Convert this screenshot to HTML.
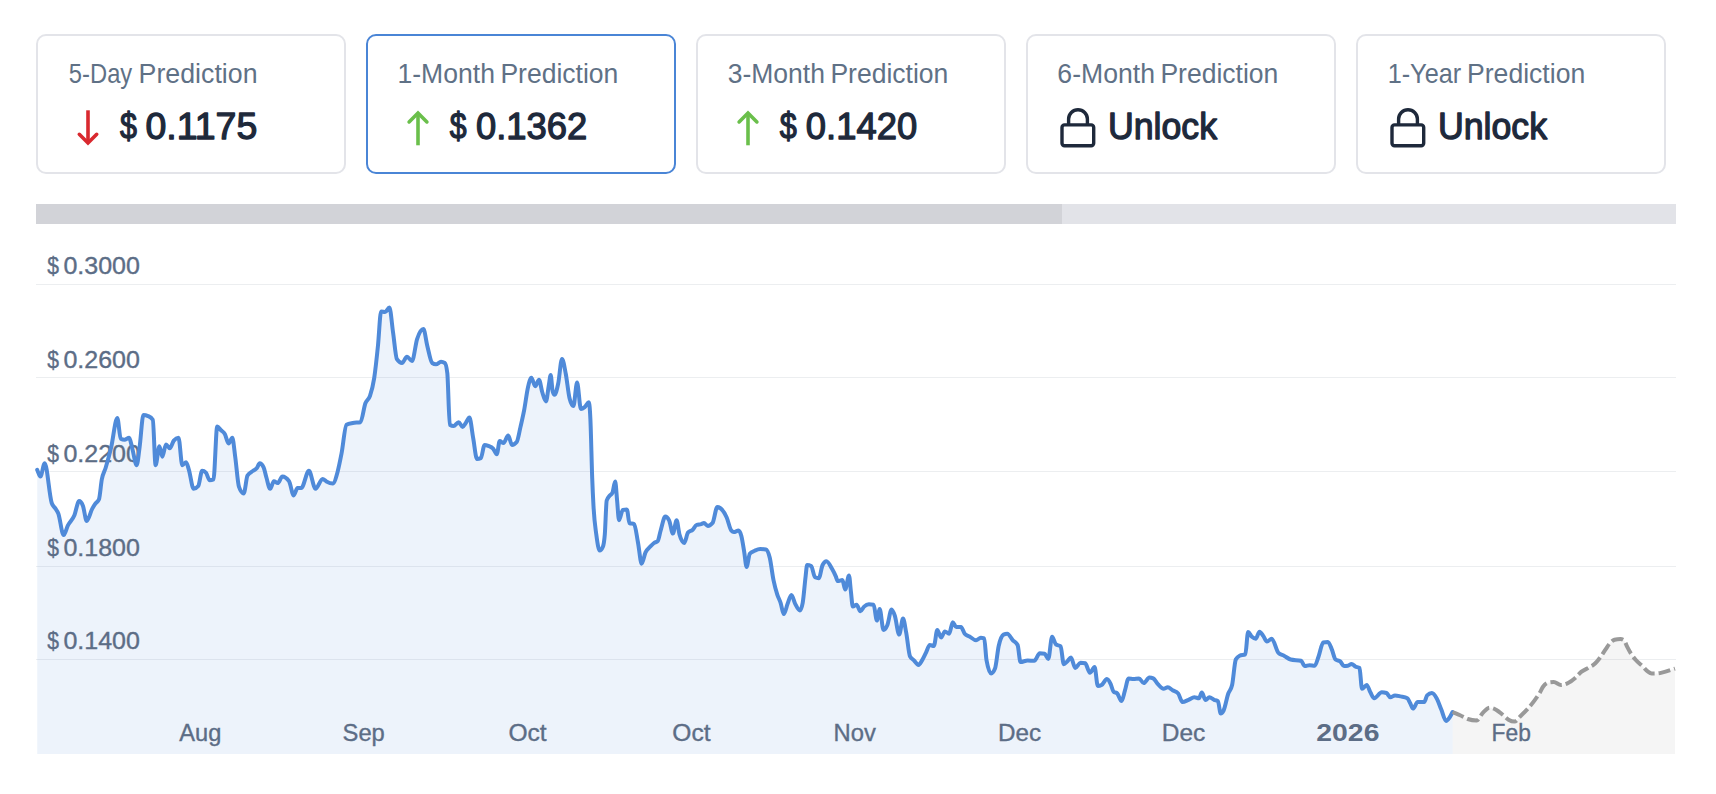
<!DOCTYPE html>
<html><head><meta charset="utf-8"><title>Price Prediction</title>
<style>
html,body{margin:0;padding:0;background:#fff;}
body{width:1716px;height:794px;position:relative;overflow:hidden;font-family:"Liberation Sans",sans-serif;}
svg{position:absolute;left:0;top:0;display:block;}
text{font-family:"Liberation Sans",sans-serif;}
.tt{font-size:27.3px;fill:#5f7186;}
.pv{font-size:37.4px;font-weight:normal;fill:#1e293b;stroke:#1e293b;stroke-width:1.3px;stroke-linejoin:round;}
.yl{font-size:23px;fill:#5c6d86;stroke:#5c6d86;stroke-width:0.35px;}
.xl{font-size:23.5px;fill:#5c6d86;stroke:#5c6d86;stroke-width:0.35px;}
.xb{font-size:23.5px;font-weight:bold;fill:#5c6d86;}
</style></head>
<body>
<svg width="1716" height="794" viewBox="0 0 1716 794">

<rect x="37" y="35" width="308" height="138" rx="9" fill="#fff" stroke="#e3e4e9" stroke-width="2"/>
<rect x="367" y="35" width="308" height="138" rx="9" fill="#fff" stroke="#4a85d6" stroke-width="2"/>
<rect x="697" y="35" width="308" height="138" rx="9" fill="#fff" stroke="#e3e4e9" stroke-width="2"/>
<rect x="1027" y="35" width="308" height="138" rx="9" fill="#fff" stroke="#e3e4e9" stroke-width="2"/>
<rect x="1357" y="35" width="308" height="138" rx="9" fill="#fff" stroke="#e3e4e9" stroke-width="2"/>
<text class="tt" x="68.85" y="83" textLength="63.4" lengthAdjust="spacingAndGlyphs">5-Day</text>
<text class="tt" x="138.61" y="83" textLength="118.93" lengthAdjust="spacingAndGlyphs">Prediction</text>
<text class="tt" x="397.48" y="83" textLength="97.45" lengthAdjust="spacingAndGlyphs">1-Month</text>
<text class="tt" x="500.43" y="83" textLength="117.9" lengthAdjust="spacingAndGlyphs">Prediction</text>
<text class="tt" x="727.69" y="83" textLength="97.23" lengthAdjust="spacingAndGlyphs">3-Month</text>
<text class="tt" x="830.43" y="83" textLength="117.9" lengthAdjust="spacingAndGlyphs">Prediction</text>
<text class="tt" x="1057.35" y="83" textLength="97.58" lengthAdjust="spacingAndGlyphs">6-Month</text>
<text class="tt" x="1160.43" y="83" textLength="117.9" lengthAdjust="spacingAndGlyphs">Prediction</text>
<text class="tt" x="1387.63" y="83" textLength="73.57" lengthAdjust="spacingAndGlyphs">1-Year</text>
<text class="tt" x="1467.02" y="83" textLength="118.21" lengthAdjust="spacingAndGlyphs">Prediction</text>
<g fill="none" stroke-width="3.6" stroke-linejoin="miter">
<path d="M88 110.3V143" stroke="#d9292f"/>
<path d="M79.3 134.3L88 143L96.7 134.3" stroke="#d9292f" stroke-linecap="round"/>
<path d="M418 145.3V113.6" stroke="#6abf4b"/>
<path d="M409.1 121.9L418 113L426.9 121.9" stroke="#6abf4b" stroke-linecap="round"/>
<path d="M748 145.3V113.6" stroke="#6abf4b"/>
<path d="M739.1 121.9L748 113L756.9 121.9" stroke="#6abf4b" stroke-linecap="round"/>
</g>
<text class="pv" x="120.02" y="138.8" textLength="16.92" lengthAdjust="spacingAndGlyphs">$</text>
<text class="pv" x="145.52" y="138.8" textLength="111.76" lengthAdjust="spacingAndGlyphs">0.1175</text>
<text class="pv" x="449.73" y="138.8" textLength="16.81" lengthAdjust="spacingAndGlyphs">$</text>
<text class="pv" x="476.03" y="138.8" textLength="111.25" lengthAdjust="spacingAndGlyphs">0.1362</text>
<text class="pv" x="779.82" y="138.8" textLength="17.02" lengthAdjust="spacingAndGlyphs">$</text>
<text class="pv" x="805.83" y="138.8" textLength="111.34" lengthAdjust="spacingAndGlyphs">0.1420</text>
<g fill="none" stroke="#1e293b" stroke-width="3.4" stroke-linejoin="round">
<rect x="1062" y="124.9" width="31.7" height="20.8" rx="2.5"/>
<path d="M1068.6 124.7V119.1A9.4 9.4 0 0 1 1087.4 119.1V124.7"/>
<rect x="1392" y="124.9" width="31.7" height="20.8" rx="2.5"/>
<path d="M1398.6 124.7V119.1A9.4 9.4 0 0 1 1417.4 119.1V124.7"/>
</g>
<text class="pv" x="1107.89" y="138.5" textLength="109.2" lengthAdjust="spacingAndGlyphs">Unlock</text>
<text class="pv" x="1437.89" y="138.5" textLength="109.2" lengthAdjust="spacingAndGlyphs">Unlock</text>
<rect x="36" y="204" width="1640" height="20" fill="#e2e3e8"/>
<rect x="36" y="204" width="1026" height="20" fill="#d2d3d8"/>
<g stroke="#eceef0" stroke-width="1">
<line x1="36" x2="1676" y1="284.5" y2="284.5"/>
<line x1="36" x2="1676" y1="377.5" y2="377.5"/>
<line x1="36" x2="1676" y1="471.5" y2="471.5"/>
<line x1="36" x2="1676" y1="566.5" y2="566.5"/>
<line x1="36" x2="1676" y1="659.5" y2="659.5"/>
</g>
<path d="M37.2 469.9C38.27 472.1 39.33 476.5 40.4 476.5C41.83 476.5 43.27 463.3 44.7 463.3C47.03 463.3 49.37 496.12 51.7 503C52.97 506.73 54.23 506.56 55.5 508.6C56.43 510.1 57.37 511.03 58.3 513.4C60.07 517.88 61.83 535.1 63.6 535.1C65 535.1 66.4 528.39 67.8 525.6C70 521.21 72.2 520.5 74.4 515.2C75.97 511.43 77.53 501.1 79.1 501.1C80.37 501.1 81.63 502.67 82.9 505.8C84.17 508.93 85.43 520.9 86.7 520.9C88.57 520.9 90.43 511.99 92.3 508.6C93.27 506.84 94.23 505.31 95.2 503.9C96.47 502.06 97.73 502.33 99 499.2C99.93 496.89 100.87 484.39 101.8 479.4C103.07 472.63 104.33 472.17 105.6 468C107.47 461.86 109.33 455.11 111.2 447.2C113.23 438.59 115.27 417.9 117.3 417.9C118.43 417.9 119.57 438.1 120.7 438.7C121.97 439.37 123.23 439.7 124.5 439.7C126.07 439.7 127.63 437.8 129.2 437.8C130.13 437.8 131.07 443.9 132 447.2C133.57 452.74 135.13 465.2 136.7 465.2C137.67 465.2 138.63 454.14 139.6 447.2C140.87 438.11 142.13 415.1 143.4 415.1C144.97 415.1 146.53 415.43 148.1 416.1C149.67 416.77 151.23 417.33 152.8 419.8C153.73 421.27 154.67 465.2 155.6 465.2C156.87 465.2 158.13 446.3 159.4 446.3C160.37 446.3 161.33 456.7 162.3 456.7C163.53 456.7 164.77 444.4 166 444.4C167.27 444.4 168.53 448.2 169.8 448.2C171.13 448.2 172.47 442.19 173.8 440.6C175.37 438.73 176.93 437.8 178.5 437.8C179.77 437.8 181.03 465.2 182.3 465.2C183.57 465.2 184.83 462.3 186.1 462.3C187.03 462.3 187.97 466.91 188.9 469.9C190.47 474.92 192.03 488.8 193.6 488.8C195.17 488.8 196.73 487.87 198.3 486C199.57 484.49 200.83 470.8 202.1 470.8C203.37 470.8 204.63 471.43 205.9 472.7C207.17 473.97 208.43 480.3 209.7 480.3C210.97 480.3 212.23 480 213.5 479.4C214.73 478.82 215.97 426.5 217.2 426.5C218.47 426.5 219.73 428.95 221 430.2C222.27 431.45 223.53 431.78 224.8 434C226.07 436.22 227.33 443.5 228.6 443.5C229.83 443.5 231.07 437.8 232.3 437.8C233.27 437.8 234.23 449.8 235.2 456.7C236.47 465.74 237.73 483.34 239 486.9C240.57 491.3 242.13 493.5 243.7 493.5C244.97 493.5 246.23 477.77 247.5 475.6C249.37 472.4 251.23 472.27 253.1 470.8C254.37 469.81 255.63 469.62 256.9 468C257.83 466.81 258.77 463.3 259.7 463.3C260.97 463.3 262.23 464.57 263.5 467.1C264.47 469.03 265.43 474.26 266.4 477.5C267.63 481.63 268.87 488.8 270.1 488.8C271.37 488.8 272.63 481.2 273.9 481.2C275.17 481.2 276.43 483.1 277.7 483.1C279.27 483.1 280.83 476.5 282.4 476.5C284.6 476.5 286.8 478.07 289 481.2C290.57 483.43 292.13 495.4 293.7 495.4C294.97 495.4 296.23 487.9 297.5 487.9C298.77 487.9 300.03 487.9 301.3 487.9C303.83 487.9 306.37 470.8 308.9 470.8C311.1 470.8 313.3 488.8 315.5 488.8C317.87 488.8 320.23 478.9 322.6 478.9C323.87 478.9 325.13 480.72 326.4 481.4C328.5 482.53 330.6 483.5 332.7 483.5C334.37 483.5 336.03 477.55 337.7 471.4C338.97 466.72 340.23 460.21 341.5 453.7C343.17 445.13 344.83 425.75 346.5 424.8C348.6 423.6 350.7 423.43 352.8 423C355.33 422.48 357.87 422.73 360.4 422.2C362.07 421.85 363.73 407.73 365.4 403.3C366.93 399.22 368.47 400.37 370 395.8C371.4 391.63 372.8 387.23 374.2 378.1C375.47 369.84 376.73 357.95 378 345.4C379.03 335.16 380.07 311.4 381.1 311.4C382.43 311.4 383.77 312.1 385.1 312.1C386.53 312.1 387.97 307.6 389.4 307.6C390.63 307.6 391.87 324.32 393.1 332.8C394.37 341.51 395.63 357.31 396.9 359.2C398.6 361.73 400.3 363 402 363C403.67 363 405.33 356.7 407 356.7C408.67 356.7 410.33 361 412 361C413.7 361 415.4 344.35 417.1 339.1C419.2 332.61 421.3 329 423.4 329C424.67 329 425.93 340.37 427.2 345.4C428.87 352.02 430.53 361.86 432.2 363C433.47 363.87 434.73 364.3 436 364.3C437.67 364.3 439.33 361.8 441 361.8C442.27 361.8 443.53 362.2 444.8 363C445.63 363.53 446.47 366.37 447.3 373.1C448.13 379.83 448.97 424.27 449.8 424.8C451.07 425.6 452.33 426 453.6 426C455.27 426 456.93 422.2 458.6 422.2C459.93 422.2 461.27 426.9 462.6 426.9C463.63 426.9 464.67 424.5 465.7 423.1C466.93 421.43 468.17 417.5 469.4 417.5C470.67 417.5 471.93 431.28 473.2 438.2C474.47 445.12 475.73 459 477 459C478.27 459 479.53 458.7 480.8 458.1C482.07 457.5 483.33 444.9 484.6 444.9C485.83 444.9 487.07 445.32 488.3 445.8C489.9 446.43 491.5 446.8 493.1 448.6C494.33 449.99 495.57 454.3 496.8 454.3C497.77 454.3 498.73 441.1 499.7 441.1C500.97 441.1 502.23 443 503.5 443C505.07 443 506.63 435.4 508.2 435.4C509.47 435.4 510.73 444.9 512 444.9C513.57 444.9 515.13 443.93 516.7 442C517.97 440.44 519.23 432.33 520.5 426.9C521.73 421.61 522.97 416.41 524.2 409.9C525.47 403.22 526.73 392.62 528 387.2C529.13 382.35 530.27 377.8 531.4 377.8C532.67 377.8 533.93 386.3 535.2 386.3C536.47 386.3 537.73 379.7 539 379.7C540.07 379.7 541.13 388.57 542.2 392C543.47 396.08 544.73 401.4 546 401.4C546.93 401.4 547.87 390.48 548.8 385.3C549.43 381.78 550.07 375 550.7 375C551.33 375 551.97 388.47 552.6 391C553.23 393.53 553.87 394.8 554.5 394.8C555.73 394.8 556.97 389.35 558.2 383.5C559.47 377.49 560.73 358.9 562 358.9C563.27 358.9 564.53 367.38 565.8 374C567.07 380.62 568.33 393.6 569.6 398.6C570.87 403.6 572.13 406.1 573.4 406.1C574.63 406.1 575.87 382.5 577.1 382.5C578.37 382.5 579.63 409 580.9 409C582.17 409 583.43 408.12 584.7 407.1C586.1 405.97 587.5 402.3 588.9 402.3C589.4 402.3 589.9 408.92 590.4 419.4C591 431.98 591.6 462.05 592.2 477.8C592.63 489.17 593.07 498.26 593.5 506.1C594.43 522.98 595.37 527.33 596.3 534.5C597.43 543.21 598.57 550.5 599.7 550.5C600.77 550.5 601.83 549.23 602.9 546.7C603.53 545.2 604.17 542.2 604.8 534.5C605.43 526.8 606.07 502.6 606.7 500.5C607.67 497.3 608.63 496.98 609.6 495.7C610.53 494.47 611.47 494.77 612.4 492.9C613.33 491.03 614.27 481.6 615.2 481.6C615.83 481.6 616.47 494.05 617.1 500.5C617.73 506.95 618.37 520.3 619 520.3C620.27 520.3 621.53 510.15 622.8 509.9C624.17 509.63 625.53 509.5 626.9 509.5C627.73 509.5 628.57 522.75 629.4 523.1C630.97 523.77 632.53 523.43 634.1 524.1C635.37 524.64 636.63 535.4 637.9 542C639.17 548.6 640.43 563.7 641.7 563.7C642.97 563.7 644.23 555.17 645.5 552.4C647.07 548.97 648.63 548.39 650.2 546.7C651.47 545.33 652.73 543.94 654 543C655.23 542.09 656.47 542.37 657.7 541.1C658.67 540.11 659.63 533.96 660.6 530.7C662.17 525.42 663.73 516.5 665.3 516.5C666.57 516.5 667.83 517.77 669.1 520.3C670.37 522.83 671.63 533.5 672.9 533.5C674.13 533.5 675.37 520.3 676.6 520.3C677.57 520.3 678.53 531 679.5 534.5C681.07 540.17 682.63 543 684.2 543C685.47 543 686.73 534.16 688 532.6C689.57 530.67 691.13 531.2 692.7 529.7C693.97 528.48 695.23 525.49 696.5 525C698.07 524.4 699.63 524.56 701.2 524.1C702.13 523.82 703.07 523.1 704 523.1C705.27 523.1 706.53 526 707.8 526C709.37 526 710.93 525.03 712.5 523.1C714.1 521.13 715.7 507.1 717.3 507.1C718.23 507.1 719.17 507.4 720.1 508C722.3 509.41 724.5 512.57 726.7 517.5C728.27 521.01 729.83 529 731.4 530.7C732.2 531.57 733 532 733.8 532C735.37 532 736.93 530.6 738.5 530.6C739.43 530.6 740.37 532.3 741.3 535.7C742.27 539.22 743.23 546.04 744.2 551.8C745 556.57 745.8 566.9 746.6 566.9C747.67 566.9 748.73 554.99 749.8 553.7C751.4 551.77 753 551.56 754.6 550.8C756.47 549.92 758.33 549 760.2 549C762.1 549 764 549.17 765.9 549.5C767.17 549.72 768.43 552.4 769.7 557.5C770.97 562.6 772.23 573.92 773.5 580.1C774.73 586.12 775.97 590.43 777.2 594.3C778.33 597.86 779.47 599.36 780.6 602.8C781.67 606.03 782.73 614.1 783.8 614.1C785.07 614.1 786.33 607 787.6 603.8C788.87 600.6 790.13 594.9 791.4 594.9C792.67 594.9 793.93 601.36 795.2 603.8C796.77 606.81 798.33 610.4 799.9 610.4C800.83 610.4 801.77 607.87 802.7 602.8C803.67 597.55 804.63 584.24 805.6 576.4C806.1 572.34 806.6 565 807.1 565C808.47 565 809.83 565.33 811.2 566C812.47 566.62 813.73 576.7 815 577.3C816.27 577.9 817.53 578.2 818.8 578.2C820.07 578.2 821.33 567.53 822.6 565C823.87 562.47 825.13 561.2 826.4 561.2C828.27 561.2 830.13 565.55 832 568.8C833.27 571 834.53 573.47 835.8 576.4C836.43 577.87 837.07 581.1 837.7 581.1C839.27 581.1 840.83 580.1 842.4 580.1C843.33 580.1 844.27 589.6 845.2 589.6C846.47 589.6 847.73 575.4 849 575.4C849.63 575.4 850.27 586.3 850.9 591.5C851.53 596.7 852.17 606.6 852.8 606.6C854.07 606.6 855.33 604.7 856.6 604.7C857.87 604.7 859.13 611.3 860.4 611.3C861.63 611.3 862.87 607.74 864.1 606.6C865.7 605.12 867.3 604.3 868.9 604.3C870.47 604.3 872.03 604.43 873.6 604.7C874.7 604.89 875.8 620.5 876.9 620.5C877.83 620.5 878.77 609.1 879.7 609.1C880.97 609.1 882.23 629.9 883.5 629.9C884.77 629.9 886.03 628.2 887.3 625.2C888.73 621.8 890.17 609.5 891.6 609.5C892.67 609.5 893.73 612.57 894.8 615.7C896.27 620 897.73 634.6 899.2 634.6C900.47 634.6 901.73 618.6 903 618.6C904.07 618.6 905.13 627.11 906.2 632.7C907.47 639.34 908.73 653.87 910 656.4C911.23 658.87 912.47 658.87 913.7 660.1C915.3 661.7 916.9 664.9 918.5 664.9C919.73 664.9 920.97 662.11 922.2 660.1C923.47 658.03 924.73 655.12 926 652.6C927.27 650.08 928.53 645 929.8 645C931.17 645 932.53 646 933.9 646C935.03 646 936.17 629.9 937.3 629.9C938.57 629.9 939.83 637.5 941.1 637.5C942.37 637.5 943.63 631.4 944.9 631.4C946.3 631.4 947.7 633.7 949.1 633.7C950.33 633.7 951.57 622.3 952.8 622.3C953.93 622.3 955.07 627.1 956.2 627.1C957.8 627.1 959.4 627.1 961 627.1C962.23 627.1 963.47 632.26 964.7 633.7C966.3 635.57 967.9 635.57 969.5 636.5C971.7 637.78 973.9 640.3 976.1 640.3C977.67 640.3 979.23 637.8 980.8 637.8C981.93 637.8 983.07 638 984.2 638.4C984.97 638.67 985.73 655.76 986.5 660.1C988.07 668.97 989.63 673.4 991.2 673.4C992.47 673.4 993.73 671.8 995 668.6C996.23 665.48 997.47 651.53 998.7 646C1000.3 638.83 1001.9 635.36 1003.5 634.6C1004.77 634 1006.03 633.7 1007.3 633.7C1009.17 633.7 1011.03 638.28 1012.9 640.3C1014.47 641.99 1016.03 641.87 1017.6 645C1018.57 646.93 1019.53 662 1020.5 662C1022.87 662 1025.23 660.5 1027.6 660.5C1029.8 660.5 1032 660.8 1034.2 660.8C1036.07 660.8 1037.93 653.3 1039.8 653.3C1041.4 653.3 1043 653.47 1044.6 653.8C1045.83 654.06 1047.07 658.9 1048.3 658.9C1049.57 658.9 1050.83 636.8 1052.1 636.8C1053.37 636.8 1054.63 643.38 1055.9 644.4C1057.47 645.67 1059.03 645.03 1060.6 646.3C1061.67 647.16 1062.73 664.2 1063.8 664.2C1064.93 664.2 1066.07 662.43 1067.2 661.4C1068.47 660.25 1069.73 657.6 1071 657.6C1072.4 657.6 1073.8 668 1075.2 668C1076.97 668 1078.73 662.7 1080.5 662.7C1082.07 662.7 1083.63 662.9 1085.2 663.3C1086.77 663.7 1088.33 672.7 1089.9 672.7C1091.47 672.7 1093.03 667.1 1094.6 667.1C1095.67 667.1 1096.73 686 1097.8 686C1099.07 686 1100.33 685.67 1101.6 685C1103.37 684.07 1105.13 679 1106.9 679C1108.17 679 1109.43 681.43 1110.7 684.1C1111.63 686.07 1112.57 690.67 1113.5 691.6C1114.77 692.87 1116.03 692.23 1117.3 693.5C1118.73 694.93 1120.17 701.1 1121.6 701.1C1122.7 701.1 1123.8 694.26 1124.9 690.7C1126.13 686.71 1127.37 678.4 1128.6 678.4C1130.2 678.4 1131.8 679 1133.4 679C1135.27 679 1137.13 678.4 1139 678.4C1140.57 678.4 1142.13 683.1 1143.7 683.1C1145.6 683.1 1147.5 677.5 1149.4 677.5C1150.67 677.5 1151.93 677.8 1153.2 678.4C1154.77 679.14 1156.33 682.47 1157.9 684.1C1159.8 686.07 1161.7 688.8 1163.6 688.8C1165 688.8 1166.4 687.3 1167.8 687.3C1169.4 687.3 1171 689.34 1172.6 690.3C1174.47 691.42 1176.33 691.37 1178.2 693.5C1179.6 695.1 1181 702 1182.4 702C1184.47 702 1186.53 700.62 1188.6 699.8C1190.5 699.04 1192.4 697.3 1194.3 697.3C1195.87 697.3 1197.43 698.2 1199 698.2C1199.93 698.2 1200.87 692.6 1201.8 692.6C1203.07 692.6 1204.33 700.1 1205.6 700.1C1206.87 700.1 1208.13 697.3 1209.4 697.3C1210.97 697.3 1212.53 699.13 1214.1 699.8C1215.37 700.34 1216.63 700.23 1217.9 701.1C1218.83 701.74 1219.77 713.4 1220.7 713.4C1221.67 713.4 1222.63 712.43 1223.6 710.5C1225.17 707.37 1226.73 697.97 1228.3 693.5C1229.57 689.89 1230.83 690.67 1232.1 685C1233.33 679.48 1234.57 661.97 1235.8 659.5C1237.07 656.97 1238.33 656.28 1239.6 655.7C1241.5 654.83 1243.4 655.27 1245.3 654.4C1246.23 653.97 1247.17 632.1 1248.1 632.1C1249.37 632.1 1250.63 635.7 1251.9 636.8C1253.17 637.9 1254.43 638.7 1255.7 638.7C1256.97 638.7 1258.23 631.7 1259.5 631.7C1260.73 631.7 1261.97 634.28 1263.2 635.9C1264.47 637.57 1265.73 641.6 1267 641.6C1268.57 641.6 1270.13 638.7 1271.7 638.7C1273.93 638.7 1276.17 650.67 1278.4 652.9C1280.27 654.77 1282.13 654.7 1284 655.7C1286.2 656.88 1288.4 658.95 1290.6 659.5C1294.07 660.37 1297.53 659.93 1301 660.8C1302.27 661.12 1303.53 666.1 1304.8 666.1C1306.37 666.1 1307.93 665.2 1309.5 665.2C1311.23 665.2 1312.97 665.7 1314.7 665.7C1315.97 665.7 1317.23 660.07 1318.5 656.7C1320.07 652.53 1321.63 642.9 1323.2 642.5C1324.77 642.1 1326.33 641.9 1327.9 641.9C1329.17 641.9 1330.43 646.17 1331.7 649.1C1332.97 652.03 1334.23 658.48 1335.5 659.5C1337.07 660.77 1338.63 660.13 1340.2 661.4C1341.47 662.42 1342.73 666.1 1344 666.1C1345.27 666.1 1346.53 665.97 1347.8 665.7C1349.07 665.43 1350.33 663.9 1351.6 663.9C1352.83 663.9 1354.07 665.83 1355.3 666.5C1356.7 667.26 1358.1 667 1359.5 668C1360.33 668.6 1361.17 688.8 1362 688.8C1363.57 688.8 1365.13 685 1366.7 685C1367.97 685 1369.23 690.38 1370.5 692.6C1371.73 694.76 1372.97 698.2 1374.2 698.2C1376.73 698.2 1379.27 692.2 1381.8 692.2C1383.37 692.2 1384.93 692.47 1386.5 693C1387.77 693.43 1389.03 697.3 1390.3 697.3C1391.87 697.3 1393.43 695.4 1395 695.4C1396.9 695.4 1398.8 695.98 1400.7 696.4C1402.9 696.89 1405.1 697 1407.3 698.2C1408.23 698.71 1409.17 701.3 1410.1 703C1411.07 704.76 1412.03 708.6 1413 708.6C1414.57 708.6 1416.13 702 1417.7 702C1419.9 702 1422.1 702 1424.3 702C1425.23 702 1426.17 696.33 1427.1 695.4C1428.7 693.8 1430.3 693 1431.9 693C1433.47 693 1435.03 695.43 1436.6 698.2C1438.17 700.97 1439.73 705.82 1441.3 709.6C1442.87 713.38 1444.43 720.9 1446 720.9C1447.27 720.9 1448.53 718.97 1449.8 717.1C1450.73 715.73 1451.67 713.7 1452.6 712L1452.6 754L37.2 754Z" fill="rgba(74,134,216,0.1)"/>
<path d="M1452.6 712C1455.1 713.07 1457.6 714.04 1460.1 715.2C1462.63 716.37 1465.17 718.16 1467.7 719C1470.7 720 1473.7 720.5 1476.7 720.5C1478.73 720.5 1480.77 714.97 1482.8 712.9C1485.07 710.59 1487.33 707.7 1489.6 707.7C1491.87 707.7 1494.13 708.63 1496.4 709.9C1498.4 711.02 1500.4 712.88 1502.4 714.5C1504.43 716.15 1506.47 718.52 1508.5 719.7C1510.5 720.86 1512.5 721.6 1514.5 721.6C1516.53 721.6 1518.57 717.95 1520.6 716C1522.87 713.83 1525.13 711.72 1527.4 709.2C1529.67 706.68 1531.93 703.94 1534.2 700.9C1535.97 698.53 1537.73 696.25 1539.5 693.3C1540.73 691.24 1541.97 688.21 1543.2 686.5C1544.73 684.37 1546.27 683.06 1547.8 682.7C1549.8 682.23 1551.8 682 1553.8 682C1556.2 682 1558.6 685 1561 685C1563.37 685 1565.73 684.18 1568.1 683C1570.47 681.82 1572.83 679.96 1575.2 677.9C1577.2 676.16 1579.2 673.5 1581.2 671.9C1583.57 670.01 1585.93 669.35 1588.3 667.9C1590.63 666.48 1592.97 665.57 1595.3 663.3C1596.97 661.68 1598.63 659.54 1600.3 657.3C1602 655.02 1603.7 652.19 1605.4 649.7C1606.9 647.5 1608.4 644.86 1609.9 643.2C1611.43 641.5 1612.97 640.11 1614.5 639.7C1616.5 639.17 1618.5 638.9 1620.5 638.9C1621.67 638.9 1622.83 639.33 1624 640.2C1625.03 640.97 1626.07 644.68 1627.1 646.7C1628.43 649.31 1629.77 651.71 1631.1 653.8C1632.6 656.15 1634.1 658.03 1635.6 659.8C1637.97 662.58 1640.33 664.1 1642.7 666.4C1644.37 668.02 1646.03 670.2 1647.7 671.4C1649.03 672.36 1650.37 673.4 1651.7 673.4C1653.4 673.4 1655.1 673.4 1656.8 673.4C1658.8 673.4 1660.8 672.85 1662.8 672.4C1665.83 671.72 1668.87 670.57 1671.9 669.6C1672.93 669.27 1673.97 668.93 1675 668.6L1675 754L1452.6 754Z" fill="rgba(153,153,153,0.1)"/>
<text class="yl" x="47.15" y="274" textLength="11.72" lengthAdjust="spacingAndGlyphs">$</text>
<text class="yl" x="63.4" y="274" textLength="76.5" lengthAdjust="spacingAndGlyphs">0.3000</text>
<text class="yl" x="47.15" y="368" textLength="11.72" lengthAdjust="spacingAndGlyphs">$</text>
<text class="yl" x="63.4" y="368" textLength="76.5" lengthAdjust="spacingAndGlyphs">0.2600</text>
<text class="yl" x="47.15" y="461.5" textLength="11.72" lengthAdjust="spacingAndGlyphs">$</text>
<text class="yl" x="63.4" y="461.5" textLength="76.5" lengthAdjust="spacingAndGlyphs">0.2200</text>
<text class="yl" x="47.15" y="556" textLength="11.72" lengthAdjust="spacingAndGlyphs">$</text>
<text class="yl" x="63.4" y="556" textLength="76.5" lengthAdjust="spacingAndGlyphs">0.1800</text>
<text class="yl" x="47.15" y="649" textLength="11.72" lengthAdjust="spacingAndGlyphs">$</text>
<text class="yl" x="63.4" y="649" textLength="76.5" lengthAdjust="spacingAndGlyphs">0.1400</text>
<text class="xl" x="179.33" y="741" textLength="42.02" lengthAdjust="spacingAndGlyphs">Aug</text>
<text class="xl" x="342.6" y="741" textLength="42.22" lengthAdjust="spacingAndGlyphs">Sep</text>
<text class="xl" x="508.41" y="741" textLength="38.19" lengthAdjust="spacingAndGlyphs">Oct</text>
<text class="xl" x="672.31" y="741" textLength="38.19" lengthAdjust="spacingAndGlyphs">Oct</text>
<text class="xl" x="833.62" y="741" textLength="42.28" lengthAdjust="spacingAndGlyphs">Nov</text>
<text class="xl" x="997.99" y="741" textLength="43.08" lengthAdjust="spacingAndGlyphs">Dec</text>
<text class="xl" x="1161.77" y="741" textLength="43.5" lengthAdjust="spacingAndGlyphs">Dec</text>
<text class="xl" x="1491.61" y="741" textLength="39.28" lengthAdjust="spacingAndGlyphs">Feb</text>
<text class="xb" x="1316.32" y="741" textLength="63.11" lengthAdjust="spacingAndGlyphs">2026</text>
<path d="M37.2 469.9C38.27 472.1 39.33 476.5 40.4 476.5C41.83 476.5 43.27 463.3 44.7 463.3C47.03 463.3 49.37 496.12 51.7 503C52.97 506.73 54.23 506.56 55.5 508.6C56.43 510.1 57.37 511.03 58.3 513.4C60.07 517.88 61.83 535.1 63.6 535.1C65 535.1 66.4 528.39 67.8 525.6C70 521.21 72.2 520.5 74.4 515.2C75.97 511.43 77.53 501.1 79.1 501.1C80.37 501.1 81.63 502.67 82.9 505.8C84.17 508.93 85.43 520.9 86.7 520.9C88.57 520.9 90.43 511.99 92.3 508.6C93.27 506.84 94.23 505.31 95.2 503.9C96.47 502.06 97.73 502.33 99 499.2C99.93 496.89 100.87 484.39 101.8 479.4C103.07 472.63 104.33 472.17 105.6 468C107.47 461.86 109.33 455.11 111.2 447.2C113.23 438.59 115.27 417.9 117.3 417.9C118.43 417.9 119.57 438.1 120.7 438.7C121.97 439.37 123.23 439.7 124.5 439.7C126.07 439.7 127.63 437.8 129.2 437.8C130.13 437.8 131.07 443.9 132 447.2C133.57 452.74 135.13 465.2 136.7 465.2C137.67 465.2 138.63 454.14 139.6 447.2C140.87 438.11 142.13 415.1 143.4 415.1C144.97 415.1 146.53 415.43 148.1 416.1C149.67 416.77 151.23 417.33 152.8 419.8C153.73 421.27 154.67 465.2 155.6 465.2C156.87 465.2 158.13 446.3 159.4 446.3C160.37 446.3 161.33 456.7 162.3 456.7C163.53 456.7 164.77 444.4 166 444.4C167.27 444.4 168.53 448.2 169.8 448.2C171.13 448.2 172.47 442.19 173.8 440.6C175.37 438.73 176.93 437.8 178.5 437.8C179.77 437.8 181.03 465.2 182.3 465.2C183.57 465.2 184.83 462.3 186.1 462.3C187.03 462.3 187.97 466.91 188.9 469.9C190.47 474.92 192.03 488.8 193.6 488.8C195.17 488.8 196.73 487.87 198.3 486C199.57 484.49 200.83 470.8 202.1 470.8C203.37 470.8 204.63 471.43 205.9 472.7C207.17 473.97 208.43 480.3 209.7 480.3C210.97 480.3 212.23 480 213.5 479.4C214.73 478.82 215.97 426.5 217.2 426.5C218.47 426.5 219.73 428.95 221 430.2C222.27 431.45 223.53 431.78 224.8 434C226.07 436.22 227.33 443.5 228.6 443.5C229.83 443.5 231.07 437.8 232.3 437.8C233.27 437.8 234.23 449.8 235.2 456.7C236.47 465.74 237.73 483.34 239 486.9C240.57 491.3 242.13 493.5 243.7 493.5C244.97 493.5 246.23 477.77 247.5 475.6C249.37 472.4 251.23 472.27 253.1 470.8C254.37 469.81 255.63 469.62 256.9 468C257.83 466.81 258.77 463.3 259.7 463.3C260.97 463.3 262.23 464.57 263.5 467.1C264.47 469.03 265.43 474.26 266.4 477.5C267.63 481.63 268.87 488.8 270.1 488.8C271.37 488.8 272.63 481.2 273.9 481.2C275.17 481.2 276.43 483.1 277.7 483.1C279.27 483.1 280.83 476.5 282.4 476.5C284.6 476.5 286.8 478.07 289 481.2C290.57 483.43 292.13 495.4 293.7 495.4C294.97 495.4 296.23 487.9 297.5 487.9C298.77 487.9 300.03 487.9 301.3 487.9C303.83 487.9 306.37 470.8 308.9 470.8C311.1 470.8 313.3 488.8 315.5 488.8C317.87 488.8 320.23 478.9 322.6 478.9C323.87 478.9 325.13 480.72 326.4 481.4C328.5 482.53 330.6 483.5 332.7 483.5C334.37 483.5 336.03 477.55 337.7 471.4C338.97 466.72 340.23 460.21 341.5 453.7C343.17 445.13 344.83 425.75 346.5 424.8C348.6 423.6 350.7 423.43 352.8 423C355.33 422.48 357.87 422.73 360.4 422.2C362.07 421.85 363.73 407.73 365.4 403.3C366.93 399.22 368.47 400.37 370 395.8C371.4 391.63 372.8 387.23 374.2 378.1C375.47 369.84 376.73 357.95 378 345.4C379.03 335.16 380.07 311.4 381.1 311.4C382.43 311.4 383.77 312.1 385.1 312.1C386.53 312.1 387.97 307.6 389.4 307.6C390.63 307.6 391.87 324.32 393.1 332.8C394.37 341.51 395.63 357.31 396.9 359.2C398.6 361.73 400.3 363 402 363C403.67 363 405.33 356.7 407 356.7C408.67 356.7 410.33 361 412 361C413.7 361 415.4 344.35 417.1 339.1C419.2 332.61 421.3 329 423.4 329C424.67 329 425.93 340.37 427.2 345.4C428.87 352.02 430.53 361.86 432.2 363C433.47 363.87 434.73 364.3 436 364.3C437.67 364.3 439.33 361.8 441 361.8C442.27 361.8 443.53 362.2 444.8 363C445.63 363.53 446.47 366.37 447.3 373.1C448.13 379.83 448.97 424.27 449.8 424.8C451.07 425.6 452.33 426 453.6 426C455.27 426 456.93 422.2 458.6 422.2C459.93 422.2 461.27 426.9 462.6 426.9C463.63 426.9 464.67 424.5 465.7 423.1C466.93 421.43 468.17 417.5 469.4 417.5C470.67 417.5 471.93 431.28 473.2 438.2C474.47 445.12 475.73 459 477 459C478.27 459 479.53 458.7 480.8 458.1C482.07 457.5 483.33 444.9 484.6 444.9C485.83 444.9 487.07 445.32 488.3 445.8C489.9 446.43 491.5 446.8 493.1 448.6C494.33 449.99 495.57 454.3 496.8 454.3C497.77 454.3 498.73 441.1 499.7 441.1C500.97 441.1 502.23 443 503.5 443C505.07 443 506.63 435.4 508.2 435.4C509.47 435.4 510.73 444.9 512 444.9C513.57 444.9 515.13 443.93 516.7 442C517.97 440.44 519.23 432.33 520.5 426.9C521.73 421.61 522.97 416.41 524.2 409.9C525.47 403.22 526.73 392.62 528 387.2C529.13 382.35 530.27 377.8 531.4 377.8C532.67 377.8 533.93 386.3 535.2 386.3C536.47 386.3 537.73 379.7 539 379.7C540.07 379.7 541.13 388.57 542.2 392C543.47 396.08 544.73 401.4 546 401.4C546.93 401.4 547.87 390.48 548.8 385.3C549.43 381.78 550.07 375 550.7 375C551.33 375 551.97 388.47 552.6 391C553.23 393.53 553.87 394.8 554.5 394.8C555.73 394.8 556.97 389.35 558.2 383.5C559.47 377.49 560.73 358.9 562 358.9C563.27 358.9 564.53 367.38 565.8 374C567.07 380.62 568.33 393.6 569.6 398.6C570.87 403.6 572.13 406.1 573.4 406.1C574.63 406.1 575.87 382.5 577.1 382.5C578.37 382.5 579.63 409 580.9 409C582.17 409 583.43 408.12 584.7 407.1C586.1 405.97 587.5 402.3 588.9 402.3C589.4 402.3 589.9 408.92 590.4 419.4C591 431.98 591.6 462.05 592.2 477.8C592.63 489.17 593.07 498.26 593.5 506.1C594.43 522.98 595.37 527.33 596.3 534.5C597.43 543.21 598.57 550.5 599.7 550.5C600.77 550.5 601.83 549.23 602.9 546.7C603.53 545.2 604.17 542.2 604.8 534.5C605.43 526.8 606.07 502.6 606.7 500.5C607.67 497.3 608.63 496.98 609.6 495.7C610.53 494.47 611.47 494.77 612.4 492.9C613.33 491.03 614.27 481.6 615.2 481.6C615.83 481.6 616.47 494.05 617.1 500.5C617.73 506.95 618.37 520.3 619 520.3C620.27 520.3 621.53 510.15 622.8 509.9C624.17 509.63 625.53 509.5 626.9 509.5C627.73 509.5 628.57 522.75 629.4 523.1C630.97 523.77 632.53 523.43 634.1 524.1C635.37 524.64 636.63 535.4 637.9 542C639.17 548.6 640.43 563.7 641.7 563.7C642.97 563.7 644.23 555.17 645.5 552.4C647.07 548.97 648.63 548.39 650.2 546.7C651.47 545.33 652.73 543.94 654 543C655.23 542.09 656.47 542.37 657.7 541.1C658.67 540.11 659.63 533.96 660.6 530.7C662.17 525.42 663.73 516.5 665.3 516.5C666.57 516.5 667.83 517.77 669.1 520.3C670.37 522.83 671.63 533.5 672.9 533.5C674.13 533.5 675.37 520.3 676.6 520.3C677.57 520.3 678.53 531 679.5 534.5C681.07 540.17 682.63 543 684.2 543C685.47 543 686.73 534.16 688 532.6C689.57 530.67 691.13 531.2 692.7 529.7C693.97 528.48 695.23 525.49 696.5 525C698.07 524.4 699.63 524.56 701.2 524.1C702.13 523.82 703.07 523.1 704 523.1C705.27 523.1 706.53 526 707.8 526C709.37 526 710.93 525.03 712.5 523.1C714.1 521.13 715.7 507.1 717.3 507.1C718.23 507.1 719.17 507.4 720.1 508C722.3 509.41 724.5 512.57 726.7 517.5C728.27 521.01 729.83 529 731.4 530.7C732.2 531.57 733 532 733.8 532C735.37 532 736.93 530.6 738.5 530.6C739.43 530.6 740.37 532.3 741.3 535.7C742.27 539.22 743.23 546.04 744.2 551.8C745 556.57 745.8 566.9 746.6 566.9C747.67 566.9 748.73 554.99 749.8 553.7C751.4 551.77 753 551.56 754.6 550.8C756.47 549.92 758.33 549 760.2 549C762.1 549 764 549.17 765.9 549.5C767.17 549.72 768.43 552.4 769.7 557.5C770.97 562.6 772.23 573.92 773.5 580.1C774.73 586.12 775.97 590.43 777.2 594.3C778.33 597.86 779.47 599.36 780.6 602.8C781.67 606.03 782.73 614.1 783.8 614.1C785.07 614.1 786.33 607 787.6 603.8C788.87 600.6 790.13 594.9 791.4 594.9C792.67 594.9 793.93 601.36 795.2 603.8C796.77 606.81 798.33 610.4 799.9 610.4C800.83 610.4 801.77 607.87 802.7 602.8C803.67 597.55 804.63 584.24 805.6 576.4C806.1 572.34 806.6 565 807.1 565C808.47 565 809.83 565.33 811.2 566C812.47 566.62 813.73 576.7 815 577.3C816.27 577.9 817.53 578.2 818.8 578.2C820.07 578.2 821.33 567.53 822.6 565C823.87 562.47 825.13 561.2 826.4 561.2C828.27 561.2 830.13 565.55 832 568.8C833.27 571 834.53 573.47 835.8 576.4C836.43 577.87 837.07 581.1 837.7 581.1C839.27 581.1 840.83 580.1 842.4 580.1C843.33 580.1 844.27 589.6 845.2 589.6C846.47 589.6 847.73 575.4 849 575.4C849.63 575.4 850.27 586.3 850.9 591.5C851.53 596.7 852.17 606.6 852.8 606.6C854.07 606.6 855.33 604.7 856.6 604.7C857.87 604.7 859.13 611.3 860.4 611.3C861.63 611.3 862.87 607.74 864.1 606.6C865.7 605.12 867.3 604.3 868.9 604.3C870.47 604.3 872.03 604.43 873.6 604.7C874.7 604.89 875.8 620.5 876.9 620.5C877.83 620.5 878.77 609.1 879.7 609.1C880.97 609.1 882.23 629.9 883.5 629.9C884.77 629.9 886.03 628.2 887.3 625.2C888.73 621.8 890.17 609.5 891.6 609.5C892.67 609.5 893.73 612.57 894.8 615.7C896.27 620 897.73 634.6 899.2 634.6C900.47 634.6 901.73 618.6 903 618.6C904.07 618.6 905.13 627.11 906.2 632.7C907.47 639.34 908.73 653.87 910 656.4C911.23 658.87 912.47 658.87 913.7 660.1C915.3 661.7 916.9 664.9 918.5 664.9C919.73 664.9 920.97 662.11 922.2 660.1C923.47 658.03 924.73 655.12 926 652.6C927.27 650.08 928.53 645 929.8 645C931.17 645 932.53 646 933.9 646C935.03 646 936.17 629.9 937.3 629.9C938.57 629.9 939.83 637.5 941.1 637.5C942.37 637.5 943.63 631.4 944.9 631.4C946.3 631.4 947.7 633.7 949.1 633.7C950.33 633.7 951.57 622.3 952.8 622.3C953.93 622.3 955.07 627.1 956.2 627.1C957.8 627.1 959.4 627.1 961 627.1C962.23 627.1 963.47 632.26 964.7 633.7C966.3 635.57 967.9 635.57 969.5 636.5C971.7 637.78 973.9 640.3 976.1 640.3C977.67 640.3 979.23 637.8 980.8 637.8C981.93 637.8 983.07 638 984.2 638.4C984.97 638.67 985.73 655.76 986.5 660.1C988.07 668.97 989.63 673.4 991.2 673.4C992.47 673.4 993.73 671.8 995 668.6C996.23 665.48 997.47 651.53 998.7 646C1000.3 638.83 1001.9 635.36 1003.5 634.6C1004.77 634 1006.03 633.7 1007.3 633.7C1009.17 633.7 1011.03 638.28 1012.9 640.3C1014.47 641.99 1016.03 641.87 1017.6 645C1018.57 646.93 1019.53 662 1020.5 662C1022.87 662 1025.23 660.5 1027.6 660.5C1029.8 660.5 1032 660.8 1034.2 660.8C1036.07 660.8 1037.93 653.3 1039.8 653.3C1041.4 653.3 1043 653.47 1044.6 653.8C1045.83 654.06 1047.07 658.9 1048.3 658.9C1049.57 658.9 1050.83 636.8 1052.1 636.8C1053.37 636.8 1054.63 643.38 1055.9 644.4C1057.47 645.67 1059.03 645.03 1060.6 646.3C1061.67 647.16 1062.73 664.2 1063.8 664.2C1064.93 664.2 1066.07 662.43 1067.2 661.4C1068.47 660.25 1069.73 657.6 1071 657.6C1072.4 657.6 1073.8 668 1075.2 668C1076.97 668 1078.73 662.7 1080.5 662.7C1082.07 662.7 1083.63 662.9 1085.2 663.3C1086.77 663.7 1088.33 672.7 1089.9 672.7C1091.47 672.7 1093.03 667.1 1094.6 667.1C1095.67 667.1 1096.73 686 1097.8 686C1099.07 686 1100.33 685.67 1101.6 685C1103.37 684.07 1105.13 679 1106.9 679C1108.17 679 1109.43 681.43 1110.7 684.1C1111.63 686.07 1112.57 690.67 1113.5 691.6C1114.77 692.87 1116.03 692.23 1117.3 693.5C1118.73 694.93 1120.17 701.1 1121.6 701.1C1122.7 701.1 1123.8 694.26 1124.9 690.7C1126.13 686.71 1127.37 678.4 1128.6 678.4C1130.2 678.4 1131.8 679 1133.4 679C1135.27 679 1137.13 678.4 1139 678.4C1140.57 678.4 1142.13 683.1 1143.7 683.1C1145.6 683.1 1147.5 677.5 1149.4 677.5C1150.67 677.5 1151.93 677.8 1153.2 678.4C1154.77 679.14 1156.33 682.47 1157.9 684.1C1159.8 686.07 1161.7 688.8 1163.6 688.8C1165 688.8 1166.4 687.3 1167.8 687.3C1169.4 687.3 1171 689.34 1172.6 690.3C1174.47 691.42 1176.33 691.37 1178.2 693.5C1179.6 695.1 1181 702 1182.4 702C1184.47 702 1186.53 700.62 1188.6 699.8C1190.5 699.04 1192.4 697.3 1194.3 697.3C1195.87 697.3 1197.43 698.2 1199 698.2C1199.93 698.2 1200.87 692.6 1201.8 692.6C1203.07 692.6 1204.33 700.1 1205.6 700.1C1206.87 700.1 1208.13 697.3 1209.4 697.3C1210.97 697.3 1212.53 699.13 1214.1 699.8C1215.37 700.34 1216.63 700.23 1217.9 701.1C1218.83 701.74 1219.77 713.4 1220.7 713.4C1221.67 713.4 1222.63 712.43 1223.6 710.5C1225.17 707.37 1226.73 697.97 1228.3 693.5C1229.57 689.89 1230.83 690.67 1232.1 685C1233.33 679.48 1234.57 661.97 1235.8 659.5C1237.07 656.97 1238.33 656.28 1239.6 655.7C1241.5 654.83 1243.4 655.27 1245.3 654.4C1246.23 653.97 1247.17 632.1 1248.1 632.1C1249.37 632.1 1250.63 635.7 1251.9 636.8C1253.17 637.9 1254.43 638.7 1255.7 638.7C1256.97 638.7 1258.23 631.7 1259.5 631.7C1260.73 631.7 1261.97 634.28 1263.2 635.9C1264.47 637.57 1265.73 641.6 1267 641.6C1268.57 641.6 1270.13 638.7 1271.7 638.7C1273.93 638.7 1276.17 650.67 1278.4 652.9C1280.27 654.77 1282.13 654.7 1284 655.7C1286.2 656.88 1288.4 658.95 1290.6 659.5C1294.07 660.37 1297.53 659.93 1301 660.8C1302.27 661.12 1303.53 666.1 1304.8 666.1C1306.37 666.1 1307.93 665.2 1309.5 665.2C1311.23 665.2 1312.97 665.7 1314.7 665.7C1315.97 665.7 1317.23 660.07 1318.5 656.7C1320.07 652.53 1321.63 642.9 1323.2 642.5C1324.77 642.1 1326.33 641.9 1327.9 641.9C1329.17 641.9 1330.43 646.17 1331.7 649.1C1332.97 652.03 1334.23 658.48 1335.5 659.5C1337.07 660.77 1338.63 660.13 1340.2 661.4C1341.47 662.42 1342.73 666.1 1344 666.1C1345.27 666.1 1346.53 665.97 1347.8 665.7C1349.07 665.43 1350.33 663.9 1351.6 663.9C1352.83 663.9 1354.07 665.83 1355.3 666.5C1356.7 667.26 1358.1 667 1359.5 668C1360.33 668.6 1361.17 688.8 1362 688.8C1363.57 688.8 1365.13 685 1366.7 685C1367.97 685 1369.23 690.38 1370.5 692.6C1371.73 694.76 1372.97 698.2 1374.2 698.2C1376.73 698.2 1379.27 692.2 1381.8 692.2C1383.37 692.2 1384.93 692.47 1386.5 693C1387.77 693.43 1389.03 697.3 1390.3 697.3C1391.87 697.3 1393.43 695.4 1395 695.4C1396.9 695.4 1398.8 695.98 1400.7 696.4C1402.9 696.89 1405.1 697 1407.3 698.2C1408.23 698.71 1409.17 701.3 1410.1 703C1411.07 704.76 1412.03 708.6 1413 708.6C1414.57 708.6 1416.13 702 1417.7 702C1419.9 702 1422.1 702 1424.3 702C1425.23 702 1426.17 696.33 1427.1 695.4C1428.7 693.8 1430.3 693 1431.9 693C1433.47 693 1435.03 695.43 1436.6 698.2C1438.17 700.97 1439.73 705.82 1441.3 709.6C1442.87 713.38 1444.43 720.9 1446 720.9C1447.27 720.9 1448.53 718.97 1449.8 717.1C1450.73 715.73 1451.67 713.7 1452.6 712" fill="none" stroke="#4f8ad9" stroke-width="4" stroke-linejoin="round" stroke-linecap="round"/>
<path d="M1452.6 712C1455.1 713.07 1457.6 714.04 1460.1 715.2C1462.63 716.37 1465.17 718.16 1467.7 719C1470.7 720 1473.7 720.5 1476.7 720.5C1478.73 720.5 1480.77 714.97 1482.8 712.9C1485.07 710.59 1487.33 707.7 1489.6 707.7C1491.87 707.7 1494.13 708.63 1496.4 709.9C1498.4 711.02 1500.4 712.88 1502.4 714.5C1504.43 716.15 1506.47 718.52 1508.5 719.7C1510.5 720.86 1512.5 721.6 1514.5 721.6C1516.53 721.6 1518.57 717.95 1520.6 716C1522.87 713.83 1525.13 711.72 1527.4 709.2C1529.67 706.68 1531.93 703.94 1534.2 700.9C1535.97 698.53 1537.73 696.25 1539.5 693.3C1540.73 691.24 1541.97 688.21 1543.2 686.5C1544.73 684.37 1546.27 683.06 1547.8 682.7C1549.8 682.23 1551.8 682 1553.8 682C1556.2 682 1558.6 685 1561 685C1563.37 685 1565.73 684.18 1568.1 683C1570.47 681.82 1572.83 679.96 1575.2 677.9C1577.2 676.16 1579.2 673.5 1581.2 671.9C1583.57 670.01 1585.93 669.35 1588.3 667.9C1590.63 666.48 1592.97 665.57 1595.3 663.3C1596.97 661.68 1598.63 659.54 1600.3 657.3C1602 655.02 1603.7 652.19 1605.4 649.7C1606.9 647.5 1608.4 644.86 1609.9 643.2C1611.43 641.5 1612.97 640.11 1614.5 639.7C1616.5 639.17 1618.5 638.9 1620.5 638.9C1621.67 638.9 1622.83 639.33 1624 640.2C1625.03 640.97 1626.07 644.68 1627.1 646.7C1628.43 649.31 1629.77 651.71 1631.1 653.8C1632.6 656.15 1634.1 658.03 1635.6 659.8C1637.97 662.58 1640.33 664.1 1642.7 666.4C1644.37 668.02 1646.03 670.2 1647.7 671.4C1649.03 672.36 1650.37 673.4 1651.7 673.4C1653.4 673.4 1655.1 673.4 1656.8 673.4C1658.8 673.4 1660.8 672.85 1662.8 672.4C1665.83 671.72 1668.87 670.57 1671.9 669.6C1672.93 669.27 1673.97 668.93 1675 668.6" fill="none" stroke="#999" stroke-width="4" stroke-dasharray="12 4"/>
</svg>
</body></html>
